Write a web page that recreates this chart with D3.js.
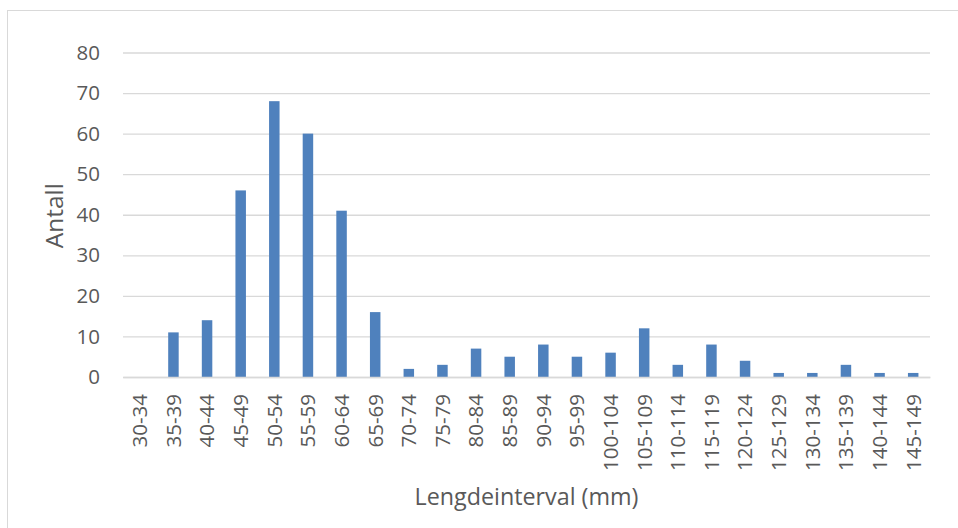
<!DOCTYPE html>
<html>
<head>
<meta charset="utf-8">
<script src="https://cdn.jsdelivr.net/npm/d3@7"></script>
<style>
  html, body { margin: 0; padding: 0; background: #fff; }
  svg { display: block; }
</style>
</head>
<body>
<svg id="chart" width="958" height="528"></svg>
<script>
const categories = ["30-34","35-39","40-44","45-49","50-54","55-59","60-64","65-69","70-74","75-79","80-84","85-89","90-94","95-99","100-104","105-109","110-114","115-119","120-124","125-129","130-134","135-139","140-144","145-149"];
const counts = [0,11,14,46,68,60,41,16,2,3,7,5,8,5,6,12,3,8,4,1,1,3,1,1];
const yTicks = [0,10,20,30,40,50,60,70,80];
const yTitle = "Antall";
const xTitle = "Lengdeinterval (mm)";

const svg = d3.select("#chart");
const font = "'Open Sans', 'Noto Sans', sans-serif";
const textColor = "#595959";
const gridColor = "#D9D9D9";

const plot = { left: 123, right: 930, top: 52.5, bottom: 377 };

// outer chart border
svg.append("rect")
  .attr("x", 7.5).attr("y", 10.5)
  .attr("width", 970).attr("height", 540)
  .attr("fill", "#fff").attr("stroke", gridColor).attr("stroke-width", 1);

const x = d3.scaleBand().domain(categories).range([plot.left, plot.right]).paddingInner(0.688).paddingOuter(0.344);
const y = d3.scaleLinear().domain([0, 80]).range([plot.bottom, plot.top]);

// gridlines
const yAxis = d3.axisLeft(y).tickValues(yTicks).tickSize(-(plot.right - plot.left)).tickPadding(23);
const gy = svg.append("g").attr("transform", `translate(${plot.left},0)`).call(yAxis);
gy.select(".domain").remove();
gy.selectAll(".tick line").attr("stroke", gridColor).attr("stroke-width", 1.3);
gy.selectAll(".tick text").attr("fill", textColor).attr("font-family", font).attr("font-size", 20.5);

// bars
svg.append("g").selectAll("rect").data(categories).join("rect")
  .attr("x", d => x(d))
  .attr("width", x.bandwidth())
  .attr("y", (d, i) => y(counts[i]))
  .attr("height", (d, i) => y(0) - y(counts[i]))
  .attr("fill", "#4F81BD");

// x axis
const xAxis = d3.axisBottom(x).tickSize(0).tickPadding(0);
const gx = svg.append("g").attr("transform", `translate(0,${plot.bottom})`).call(xAxis);
gx.select(".domain").attr("stroke", gridColor).attr("stroke-width", 1.3);
gx.selectAll(".tick text")
  .attr("fill", textColor).attr("font-family", font).attr("font-size", 20.5)
  .attr("text-anchor", "end")
  .attr("transform", "translate(0,17) rotate(-90)")
  .attr("x", 0).attr("y", 0).attr("dy", "0.36em");

// axis titles
svg.append("text")
  .attr("transform", `translate(62.5,${(plot.top + plot.bottom) / 2 + 1}) rotate(-90)`)
  .attr("text-anchor", "middle")
  .attr("fill", textColor).attr("font-family", font).attr("font-size", 24.5)
  .text(yTitle);

svg.append("text")
  .attr("x", (plot.left + plot.right) / 2).attr("y", 504.5)
  .attr("text-anchor", "middle")
  .attr("fill", textColor).attr("font-family", font).attr("font-size", 23.3)
  .text(xTitle);
</script>
</body>
</html>
